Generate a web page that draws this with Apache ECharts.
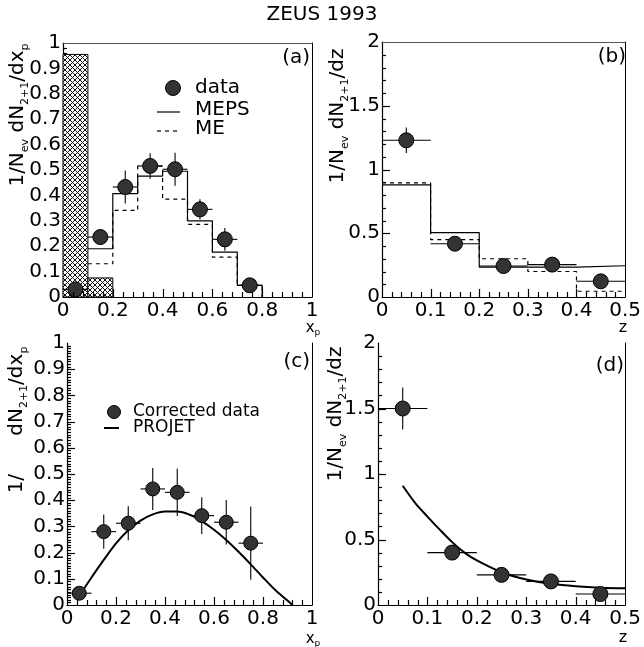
<!DOCTYPE html>
<html>
<head>
<meta charset="utf-8">
<script src="https://cdn.jsdelivr.net/npm/echarts@6/dist/echarts.min.js"></script>
<style>
  html, body { margin: 0; padding: 0; background: #fff; }
  #main { width: 644px; height: 647px; }
</style>
</head>
<body>
<div id="main"></div>
<script>
// (a) x_p, uncorrected data with MEPS / ME histograms
var centersA = [0.05, 0.15, 0.25, 0.35, 0.45, 0.55, 0.65, 0.75];
var dataA = [0.03, 0.236, 0.433, 0.516, 0.503, 0.345, 0.227, 0.046];
var errA = [0, 0.012, 0.065, 0.05, 0.065, 0.04, 0.045, 0];
var edgesA = [0.1, 0.2, 0.3, 0.4, 0.5, 0.6, 0.7, 0.8];
var mepsA = [0.19, 0.407, 0.476, 0.495, 0.30, 0.177, 0.046];
var meA = [0.131, 0.341, 0.515, 0.385, 0.286, 0.157, 0.046];
var hatchLo = [0, 0.1];
var hatchHi = [0.1, 0.2];
var hatchVal = [0.955, 0.075];

// (b) z, uncorrected
var centersB = [0.05, 0.15, 0.25, 0.35, 0.45];
var dataB = [1.229, 0.418, 0.243, 0.254, 0.123];
var errB = [0.1, 0.03, 0.02, 0.02, 0.02];
var edgesB = [0, 0.1, 0.2, 0.3, 0.4, 0.5];
var mepsB = [0.88, 0.505, 0.235, 0.235, 0.245];
var meB = [0.895, 0.45, 0.30, 0.20, 0.045];

// (c) x_p, corrected data vs PROJET
var centersC = [0.05, 0.15, 0.25, 0.35, 0.45, 0.55, 0.65, 0.75];
var dataC = [0.045, 0.28, 0.312, 0.443, 0.43, 0.341, 0.316, 0.236];
var errC = [0.01, 0.065, 0.065, 0.08, 0.09, 0.07, 0.085, 0.14];
var projetCx = [0.04, 0.05, 0.1, 0.15, 0.2, 0.25, 0.3, 0.35, 0.4, 0.45, 0.5, 0.55, 0.6, 0.65, 0.7, 0.75, 0.8, 0.85, 0.9, 0.92];
var projetCy = [0.02, 0.035, 0.105, 0.172, 0.235, 0.285, 0.322, 0.346, 0.357, 0.357, 0.345, 0.32, 0.287, 0.248, 0.203, 0.155, 0.105, 0.057, 0.017, 0.0];

// (d) z, corrected data vs PROJET
var centersD = [0.05, 0.15, 0.25, 0.35, 0.45];
var dataD = [1.5, 0.40, 0.23, 0.18, 0.084];
var errD = [0.16, 0.05, 0.02, 0.015, 0.015];
var projetDx = [0.05, 0.075, 0.1, 0.125, 0.15, 0.175, 0.2, 0.25, 0.3, 0.35, 0.4, 0.45, 0.5];
var projetDy = [0.91, 0.78, 0.675, 0.575, 0.48, 0.40, 0.34, 0.25, 0.195, 0.162, 0.143, 0.132, 0.127];

// axis ranges: [max, minor step, major step] per panel
var xTicks = [[1, 0.04, 0.2], [0.5, 0.02, 0.1], [1, 0.04, 0.2], [0.5, 0.02, 0.1]];
var yTicks = [[1, 0.02, 0.1], [2, 0.1, 0.5], [1, 0.01, 0.1], [2, 0.1, 0.5]];

var FONT = 'DejaVu Sans';
var chart = echarts.init(document.getElementById('main'));

// hatch pattern for the excluded bins
var pc = document.createElement('canvas');
pc.width = 5; pc.height = 5;
var g = pc.getContext('2d');
g.fillStyle = '#fff'; g.fillRect(0, 0, 5, 5);
g.strokeStyle = '#111'; g.lineWidth = 1;
g.beginPath(); g.moveTo(0, 0); g.lineTo(5, 5); g.moveTo(5, 0); g.lineTo(0, 5); g.stroke();
var hatch = { image: pc, repeat: 'repeat' };

function steps(edges, vals, dropEnd) {
  var pts = [];
  for (var i = 0; i < vals.length; i++) {
    pts.push([edges[i], vals[i]]);
    pts.push([edges[i + 1], vals[i]]);
  }
  if (dropEnd) pts.push([edges[vals.length], 0]);
  return pts;
}
function zip(xs, ys) {
  return xs.map(function (x, i) { return [x, ys[i]]; });
}
function errItems(xs, ys, es) {
  return xs.map(function (x, i) { return [x, ys[i], 0.05, es[i]]; });
}
// tick values along an axis, flag 1 for major
function tickList(spec, isX) {
  var out = [], n = Math.round(spec[0] / spec[1]);
  for (var i = 1; i < n; i++) {
    var v = +(i * spec[1]).toFixed(4);
    var r = v / spec[2];
    var big = Math.abs(r - Math.round(r)) < 1e-6 ? 1 : 0;
    out.push(isX ? [v, 0, big] : [0, v, big]);
  }
  return out;
}

function renderErr(params, api) {
  var x = api.value(0), y = api.value(1), xe = api.value(2), ye = api.value(3);
  var l = api.coord([x - xe, y]), r = api.coord([x + xe, y]);
  var st = { stroke: '#000', lineWidth: 1.1 };
  var ch = [{ type: 'line', shape: { x1: l[0], y1: l[1], x2: r[0], y2: r[1] }, style: st }];
  if (ye > 0) {
    var b = api.coord([x, y - ye]), t = api.coord([x, y + ye]);
    ch.push({ type: 'line', shape: { x1: b[0], y1: b[1], x2: t[0], y2: t[1] }, style: st });
  }
  return { type: 'group', children: ch };
}
function renderHatch(params, api) {
  var p0 = api.coord([api.value(0), api.value(2)]);
  var p1 = api.coord([api.value(1), 0]);
  return {
    type: 'rect',
    shape: { x: p0[0], y: p0[1], width: p1[0] - p0[0], height: p1[1] - p0[1] },
    style: { fill: hatch, stroke: '#000', lineWidth: 1 }
  };
}
function renderTickX(params, api) {
  var p = api.coord([api.value(0), 0]);
  var len = api.value(2) ? 8 : 5;
  var x = Math.round(p[0]) + 0.5;
  return { type: 'group', children: [{ type: 'line', shape: { x1: x, y1: p[1], x2: x, y2: p[1] - len },
    style: { stroke: '#000', lineWidth: 1.2 } }] };
}
function renderTickY(params, api) {
  var p = api.coord([0, api.value(1)]);
  var len = api.value(2) ? 8 : 4;
  var y = Math.round(p[1]) + 0.5;
  return { type: 'group', children: [{ type: 'line', shape: { x1: p[0], y1: y, x2: p[0] + len, y2: y },
    style: { stroke: '#000', lineWidth: 1.2 } }] };
}

function labelAxis(gi, max, interval, margin) {
  return {
    type: 'value', gridIndex: gi, min: 0, max: max, interval: interval,
    axisLine: { show: true, onZero: false, lineStyle: { color: '#000', width: 1.2 } },
    axisTick: { show: false },
    splitLine: { show: false },
    axisLabel: { color: '#000', fontSize: 20, margin: margin, showMinLabel: true, showMaxLabel: true }
  };
}
function frame(gi, max, pos, color) {
  return {
    type: 'value', gridIndex: gi, min: 0, max: max, position: pos,
    axisLine: { show: true, onZero: false, lineStyle: { color: color, width: 1 } },
    axisTick: { show: false }, axisLabel: { show: false }, splitLine: { show: false }
  };
}

var axisRich = {
  m: { fontSize: 20, fontFamily: FONT, color: '#000', lineHeight: 26 },
  s: { fontSize: 11, fontFamily: FONT, color: '#000', verticalAlign: 'bottom', lineHeight: 14 }
};
var nameRich = {
  m: { fontSize: 15, fontFamily: FONT, color: '#000', lineHeight: 18 },
  s: { fontSize: 9, fontFamily: FONT, color: '#000', verticalAlign: 'bottom', lineHeight: 10 }
};
function txt(x, y, text, size, align) {
  return { type: 'text', x: x, y: y, style: { text: text, fontSize: size, fontFamily: FONT, fill: '#000', align: align || 'center', verticalAlign: 'middle' } };
}
function rotLabel(x, y, text) {
  return { type: 'text', x: x, y: y, rotation: Math.PI / 2, style: { text: text, rich: axisRich, align: 'center', verticalAlign: 'middle' } };
}
function seg(x1, y1, x2, y2, dash) {
  return { type: 'line', shape: { x1: x1, y1: y1, x2: x2, y2: y2 }, style: { stroke: '#000', lineWidth: 1.2, lineDash: dash || null } };
}

var tickSeries = [];
for (var k = 0; k < 4; k++) {
  tickSeries.push({ type: 'custom', xAxisIndex: k, yAxisIndex: k, renderItem: renderTickX, encode: { x: 0, y: 1 },
    data: tickList(xTicks[k], true), z: 10, clip: false, silent: true });
  tickSeries.push({ type: 'custom', xAxisIndex: k, yAxisIndex: k, renderItem: renderTickY, encode: { x: 0, y: 1 },
    data: tickList(yTicks[k], false), z: k === 0 ? 0 : 10, clip: false, silent: true });
}

var option = {
  animation: false,
  textStyle: { fontFamily: FONT },
  grid: [
    { left: 63, top: 43, width: 249, height: 254 },
    { left: 382, top: 42, width: 250, height: 255 },
    { left: 67, top: 343, width: 245, height: 262 },
    { left: 378, top: 343, width: 251, height: 262 }
  ],
  xAxis: [
    labelAxis(0, 1, 0.2, 4), labelAxis(1, 0.5, 0.1, 4), labelAxis(2, 1, 0.2, 4), labelAxis(3, 0.5, 0.1, 4),
    frame(0, 1, 'top', '#555'), frame(1, 0.5, 'top', '#555')
  ],
  yAxis: [
    labelAxis(0, 1, 0.1, 2), labelAxis(1, 2, 0.5, 2), labelAxis(2, 1, 0.1, 2), labelAxis(3, 2, 0.5, 2),
    frame(0, 1, 'right', '#000'), frame(1, 2, 'right', '#000'), frame(2, 1, 'right', '#000'), frame(3, 2, 'right', '#000')
  ],
  series: tickSeries.concat([
    // (a)
    { type: 'custom', xAxisIndex: 0, yAxisIndex: 0, renderItem: renderHatch, encode: { x: [0, 1], y: 2 },
      data: hatchLo.map(function (lo, i) { return [lo, hatchHi[i], hatchVal[i]]; }), z: 1 },
    { type: 'line', name: 'MEPS', xAxisIndex: 0, yAxisIndex: 0, data: steps(edgesA, mepsA, true), showSymbol: false,
      lineStyle: { color: '#000', width: 1.2 }, z: 2 },
    { type: 'line', name: 'ME', xAxisIndex: 0, yAxisIndex: 0, data: steps(edgesA, meA, true), showSymbol: false,
      lineStyle: { color: '#000', width: 1.2, type: [4, 4] }, z: 2 },
    { type: 'custom', xAxisIndex: 0, yAxisIndex: 0, renderItem: renderErr, encode: { x: 0, y: 1 },
      data: errItems(centersA, dataA, errA), z: 3 },
    { type: 'scatter', name: 'data', xAxisIndex: 0, yAxisIndex: 0, data: zip(centersA, dataA), symbolSize: 15,
      itemStyle: { color: '#333', borderColor: '#000', borderWidth: 1, opacity: 1 }, z: 4 },
    // (b)
    { type: 'line', name: 'MEPS', xAxisIndex: 1, yAxisIndex: 1, data: steps(edgesB, mepsB, false), showSymbol: false,
      lineStyle: { color: '#000', width: 1.2 }, z: 2 },
    { type: 'line', name: 'ME', xAxisIndex: 1, yAxisIndex: 1, data: steps(edgesB, meB, false), showSymbol: false,
      lineStyle: { color: '#000', width: 1.2, type: [4, 4] }, z: 2 },
    { type: 'custom', xAxisIndex: 1, yAxisIndex: 1, renderItem: renderErr, encode: { x: 0, y: 1 },
      data: errItems(centersB, dataB, errB), z: 3 },
    { type: 'scatter', name: 'data', xAxisIndex: 1, yAxisIndex: 1, data: zip(centersB, dataB), symbolSize: 15,
      itemStyle: { color: '#333', borderColor: '#000', borderWidth: 1, opacity: 1 }, z: 4 },
    // (c)
    { type: 'line', name: 'PROJET', xAxisIndex: 2, yAxisIndex: 2, data: zip(projetCx, projetCy), smooth: 0.3, showSymbol: false,
      lineStyle: { color: '#000', width: 2 }, z: 2 },
    { type: 'custom', xAxisIndex: 2, yAxisIndex: 2, renderItem: renderErr, encode: { x: 0, y: 1 },
      data: errItems(centersC, dataC, errC), z: 3 },
    { type: 'scatter', name: 'Corrected data', xAxisIndex: 2, yAxisIndex: 2, data: zip(centersC, dataC), symbolSize: 14,
      itemStyle: { color: '#333', borderColor: '#000', borderWidth: 1, opacity: 1 }, z: 4 },
    // (d)
    { type: 'line', name: 'PROJET', xAxisIndex: 3, yAxisIndex: 3, data: zip(projetDx, projetDy), smooth: 0.3, showSymbol: false,
      lineStyle: { color: '#000', width: 2 }, z: 2 },
    { type: 'custom', xAxisIndex: 3, yAxisIndex: 3, renderItem: renderErr, encode: { x: 0, y: 1 },
      data: errItems(centersD, dataD, errD), z: 3 },
    { type: 'scatter', name: 'Corrected data', xAxisIndex: 3, yAxisIndex: 3, data: zip(centersD, dataD), symbolSize: 15,
      itemStyle: { color: '#333', borderColor: '#000', borderWidth: 1, opacity: 1 }, z: 4 }
  ]),
  graphic: [
    txt(322, 15, 'ZEUS 1993', 20),
    txt(310, 58, '(a)', 20, 'right'),
    txt(626, 57, '(b)', 20, 'right'),
    txt(310, 362, '(c)', 20, 'right'),
    txt(624, 366, '(d)', 20, 'right'),
    rotLabel(18, 115, '{m|1/N}{s|ev}{m| dN}{s|2+1}{m|/dx}{s|p}'),
    rotLabel(338, 116, '{m|1/N}{s|ev}{m| dN}{s|2+1}{m|/dz}'),
    rotLabel(17, 420, '{m|1/      dN}{s|2+1}{m|/dx}{s|p}'),
    rotLabel(336, 414, '{m|1/N}{s|ev}{m| dN}{s|2+1}{m|/dz}'),
    { type: 'text', x: 313, y: 328, style: { text: '{m|x}{s|p}', rich: nameRich, align: 'center', verticalAlign: 'middle' } },
    txt(623, 328, 'z', 16),
    { type: 'text', x: 313, y: 639, style: { text: '{m|x}{s|p}', rich: nameRich, align: 'center', verticalAlign: 'middle' } },
    txt(623, 638, 'z', 16),
    // legend (a)
    { type: 'circle', shape: { cx: 173, cy: 88, r: 7.5 }, style: { fill: '#333', stroke: '#000', lineWidth: 1 } },
    txt(195, 88, 'data', 20, 'left'),
    seg(157, 112, 180, 112),
    txt(195, 110, 'MEPS', 20, 'left'),
    seg(157, 131, 180, 131, [4, 4]),
    txt(195, 129, 'ME', 20, 'left'),
    // legend (c)
    { type: 'circle', shape: { cx: 114, cy: 412, r: 6.5 }, style: { fill: '#333', stroke: '#000', lineWidth: 1 } },
    txt(133, 412, 'Corrected data', 17, 'left'),
    { type: 'line', shape: { x1: 104, y1: 428, x2: 119, y2: 428 }, style: { stroke: '#000', lineWidth: 2 } },
    txt(133, 428, 'PROJET', 17, 'left')
  ]
};
chart.setOption(option);
</script>
</body>
</html>
